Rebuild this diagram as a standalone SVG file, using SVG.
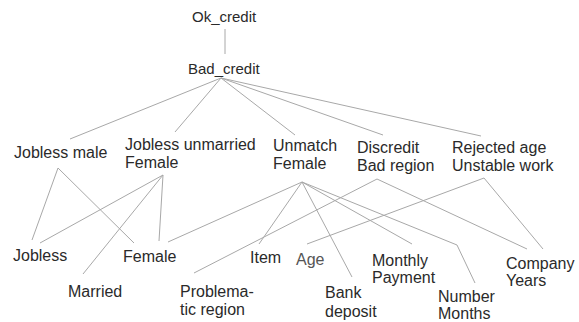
<svg xmlns="http://www.w3.org/2000/svg" width="579" height="322" viewBox="0 0 579 322">
<style>
  text { font-family: "Liberation Sans", Arial, sans-serif; font-size: 16px; fill: #2a2a2a; }
  .top { font-size: 15px; }
  .gray { fill: #555; }
  #connectors line, #connectors polyline { stroke: #a8a8a8; stroke-width: 1; fill: none; }
</style>
<rect width="579" height="322" fill="#ffffff"/>
<g id="connectors">
  <line x1="225" y1="29" x2="225" y2="54"/>
  <line x1="221" y1="78" x2="70" y2="139"/>
  <line x1="221" y1="78" x2="175" y2="132"/>
  <line x1="221" y1="78" x2="295" y2="135"/>
  <line x1="221" y1="78" x2="383" y2="135"/>
  <line x1="221" y1="78" x2="481" y2="136"/>
  <line x1="58" y1="168" x2="32" y2="240"/>
  <line x1="58" y1="168" x2="134" y2="243"/>
  <line x1="163" y1="175" x2="40" y2="243"/>
  <line x1="163" y1="175" x2="83" y2="274"/>
  <line x1="163" y1="175" x2="159" y2="241"/>
  <line x1="302" y1="182" x2="168" y2="242"/>
  <line x1="302" y1="182" x2="259" y2="244"/>
  <line x1="302" y1="182" x2="352" y2="277"/>
  <line x1="302" y1="182" x2="412" y2="244"/>
  <polyline points="302,182 457,245 475,283"/>
  <line x1="377" y1="179" x2="194" y2="273"/>
  <line x1="377" y1="179" x2="527" y2="249"/>
  <line x1="484" y1="178" x2="307" y2="244"/>
  <line x1="484" y1="178" x2="543" y2="249"/>
</g>
<g id="ok_credit"><text class="top" x="192" y="22">Ok_credit</text></g>
<g id="bad_credit"><text class="top" x="188" y="74">Bad_credit</text></g>
<g id="jobless_male"><text x="14" y="158">Jobless male</text></g>
<g id="jobless_unmarried_female"><text x="125" y="150">Jobless unmarried</text><text x="125" y="168">Female</text></g>
<g id="unmatch_female"><text x="273" y="151">Unmatch</text><text x="273" y="169">Female</text></g>
<g id="discredit_bad_region"><text x="357" y="153">Discredit</text><text x="357" y="171">Bad region</text></g>
<g id="rejected_age"><text x="452" y="153">Rejected age</text><text x="452" y="171">Unstable work</text></g>
<g id="jobless"><text x="13" y="261">Jobless</text></g>
<g id="female"><text x="123" y="262">Female</text></g>
<g id="married"><text x="68" y="297">Married</text></g>
<g id="problematic_region"><text x="180" y="297">Problema-</text><text x="180" y="315">tic region</text></g>
<g id="item"><text x="250" y="263">Item</text></g>
<g id="age"><text class="gray" x="296" y="265">Age</text></g>
<g id="bank_deposit"><text x="325" y="298">Bank</text><text x="325" y="317">deposit</text></g>
<g id="monthly_payment"><text x="372" y="266">Monthly</text><text x="372" y="283">Payment</text></g>
<g id="number_months"><text x="438" y="302">Number</text><text x="438" y="319">Months</text></g>
<g id="company_years"><text x="506" y="269">Company</text><text x="506" y="286">Years</text></g>
</svg>
